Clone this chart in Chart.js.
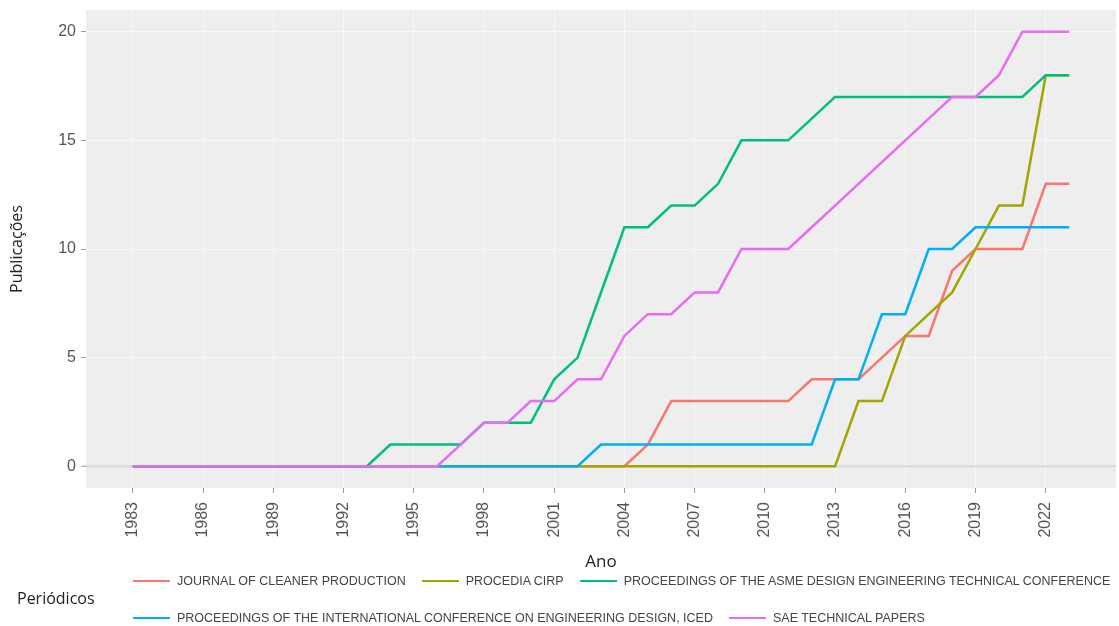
<!DOCTYPE html>
<html>
<head>
<meta charset="utf-8">
<script src="https://cdn.jsdelivr.net/npm/chart.js@4.4.1/dist/chart.umd.min.js"></script>
<style>
  body { margin: 0; background: #fff; }
  #wrap { position: relative; width: 1119px; height: 626px; }
  #legendTitle {
    position: absolute; left: 17px; top: 587px;
    font: 16px "Open Sans", sans-serif; color: #222;
  }
  #legend {
    position: absolute; left: 133px; top: 572px;
    font: 12.5px "Liberation Sans", Arial, sans-serif; color: #444;
  }
  .row { display: flex; align-items: center; height: 18px; white-space: nowrap; }
  .row + .row { margin-top: 19px; }
  .item { display: flex; align-items: center; margin-right: 16px; }
  .swatch { width: 37px; height: 2.5px; margin-right: 7px; }
</style>
</head>
<body>
<div id="wrap">
  <canvas id="chart"></canvas>
  <div id="legendTitle">Periódicos</div>
  <div id="legend"></div>
</div>
<script>
// anos
const years = [
  1983, 1984, 1985, 1986, 1987, 1988, 1989, 1990, 1991, 1992,
  1993, 1994, 1995, 1996, 1997, 1998, 1999, 2000, 2001, 2002,
  2003, 2004, 2005, 2006, 2007, 2008, 2009, 2010, 2011, 2012,
  2013, 2014, 2015, 2016, 2017, 2018, 2019, 2020, 2021, 2022,
  2023
];

const xTickYears = [1983, 1986, 1989, 1992, 1995, 1998, 2001, 2004, 2007, 2010, 2013, 2016, 2019, 2022];
const yTickValues = [0, 5, 10, 15, 20];

// publicações acumuladas por periódico
const cleanerProduction = [
  0, 0, 0, 0, 0, 0, 0, 0, 0, 0,
  0, 0, 0, 0, 0, 0, 0, 0, 0, 0,
  0, 0, 1, 3, 3, 3, 3, 3, 3, 4,
  4, 4, 5, 6, 6, 9, 10, 10, 10, 13,
  13
];
const procediaCirp = [
  0, 0, 0, 0, 0, 0, 0, 0, 0, 0,
  0, 0, 0, 0, 0, 0, 0, 0, 0, 0,
  0, 0, 0, 0, 0, 0, 0, 0, 0, 0,
  0, 3, 3, 6, 7, 8, 10, 12, 12, 18,
  18
];
const asmeConference = [
  0, 0, 0, 0, 0, 0, 0, 0, 0, 0,
  0, 1, 1, 1, 1, 2, 2, 2, 4, 5,
  8, 11, 11, 12, 12, 13, 15, 15, 15, 16,
  17, 17, 17, 17, 17, 17, 17, 17, 17, 18,
  18
];
const icedConference = [
  0, 0, 0, 0, 0, 0, 0, 0, 0, 0,
  0, 0, 0, 0, 0, 0, 0, 0, 0, 0,
  1, 1, 1, 1, 1, 1, 1, 1, 1, 1,
  4, 4, 7, 7, 10, 10, 11, 11, 11, 11,
  11
];
const saePapers = [
  0, 0, 0, 0, 0, 0, 0, 0, 0, 0,
  0, 0, 0, 0, 1, 2, 2, 3, 3, 4,
  4, 6, 7, 7, 8, 8, 10, 10, 10, 11,
  12, 13, 14, 15, 16, 17, 17, 18, 20, 20,
  20
];

const seriesNames = [
  'JOURNAL OF CLEANER PRODUCTION',
  'PROCEDIA CIRP',
  'PROCEEDINGS OF THE ASME DESIGN ENGINEERING TECHNICAL CONFERENCE',
  'PROCEEDINGS OF THE INTERNATIONAL CONFERENCE ON ENGINEERING DESIGN, ICED',
  'SAE TECHNICAL PAPERS'
];
const seriesValues = [cleanerProduction, procediaCirp, asmeConference, icedConference, saePapers];
const seriesColors = ['#F8766D', '#A3A500', '#00BF7D', '#00B0F6', '#E76BF3'];

const datasets = seriesNames.map((name, i) => ({
  label: name,
  data: years.map((yr, j) => ({ x: yr, y: seriesValues[i][j] })),
  borderColor: seriesColors[i],
  backgroundColor: seriesColors[i],
  borderWidth: 2.5,
  pointRadius: 0,
  pointHoverRadius: 0,
  tension: 0,
  // later series drawn on top, like the original
  order: seriesNames.length - i
}));

const panelBackground = {
  id: 'panelBackground',
  beforeDraw(chart) {
    const { ctx, chartArea } = chart;
    ctx.save();
    ctx.fillStyle = '#eeeeee';
    ctx.fillRect(chartArea.left, chartArea.top, chartArea.right - chartArea.left, chartArea.bottom - chartArea.top);
    ctx.restore();
  }
};

new Chart(document.getElementById('chart'), {
  type: 'line',
  data: { datasets },
  plugins: [panelBackground],
  options: {
    responsive: true,
    maintainAspectRatio: false,
    animation: false,
    layout: {
      padding: { top: 10, right: 3, bottom: 50, left: 0 }
    },
    plugins: {
      legend: { display: false },
      tooltip: { enabled: false }
    },
    scales: {
      x: {
        type: 'linear',
        min: 1981,
        max: 2025,
        afterBuildTicks: (scale) => {
          scale.ticks = xTickYears.map(v => ({ value: v }));
        },
        afterFit: (scale) => {
          scale.height = 88;
        },
        border: { display: false },
        grid: {
          color: '#f8f8f8',
          lineWidth: 1,
          tickLength: 5,
          tickColor: '#9a9a9a',
          tickWidth: 1
        },
        ticks: {
          autoSkip: false,
          minRotation: 90,
          maxRotation: 90,
          padding: 9,
          color: '#555555',
          font: { family: '"Liberation Sans", Arial, sans-serif', size: 16 },
          callback: (value) => String(value)
        },
        title: {
          display: true,
          text: 'Ano',
          color: '#222222',
          font: { family: '"Open Sans", sans-serif', size: 17 },
          padding: { top: 0, bottom: 4 }
        }
      },
      y: {
        min: -1,
        max: 21,
        afterBuildTicks: (scale) => {
          scale.ticks = yTickValues.map(v => ({ value: v }));
        },
        afterFit: (scale) => {
          scale.width = 86;
          // the range already has room for the end labels
          scale.paddingTop = 0;
          scale.paddingBottom = 0;
        },
        border: { display: false },
        grid: {
          color: (ctx) => (ctx.tick && ctx.tick.value === 0 ? '#dcdcdc' : '#f8f8f8'),
          lineWidth: (ctx) => (ctx.tick && ctx.tick.value === 0 ? 2.5 : 1),
          tickLength: 5,
          tickColor: '#9a9a9a',
          tickWidth: 1
        },
        ticks: {
          padding: 5,
          color: '#555555',
          font: { family: '"Liberation Sans", Arial, sans-serif', size: 16 }
        },
        title: {
          display: true,
          text: 'Publicações',
          color: '#222222',
          font: { family: '"Open Sans", sans-serif', size: 16 },
          padding: { top: 8, bottom: 0 }
        }
      }
    }
  }
});

// legenda em duas linhas, como no original
const legendRows = [[0, 1, 2], [3, 4]];
const legendEl = document.getElementById('legend');
legendRows.forEach(row => {
  const rowEl = document.createElement('div');
  rowEl.className = 'row';
  row.forEach(i => {
    const item = document.createElement('div');
    item.className = 'item';
    const sw = document.createElement('span');
    sw.className = 'swatch';
    sw.style.background = seriesColors[i];
    const txt = document.createElement('span');
    txt.textContent = seriesNames[i];
    item.appendChild(sw);
    item.appendChild(txt);
    rowEl.appendChild(item);
  });
  legendEl.appendChild(rowEl);
});
</script>
</body>
</html>
